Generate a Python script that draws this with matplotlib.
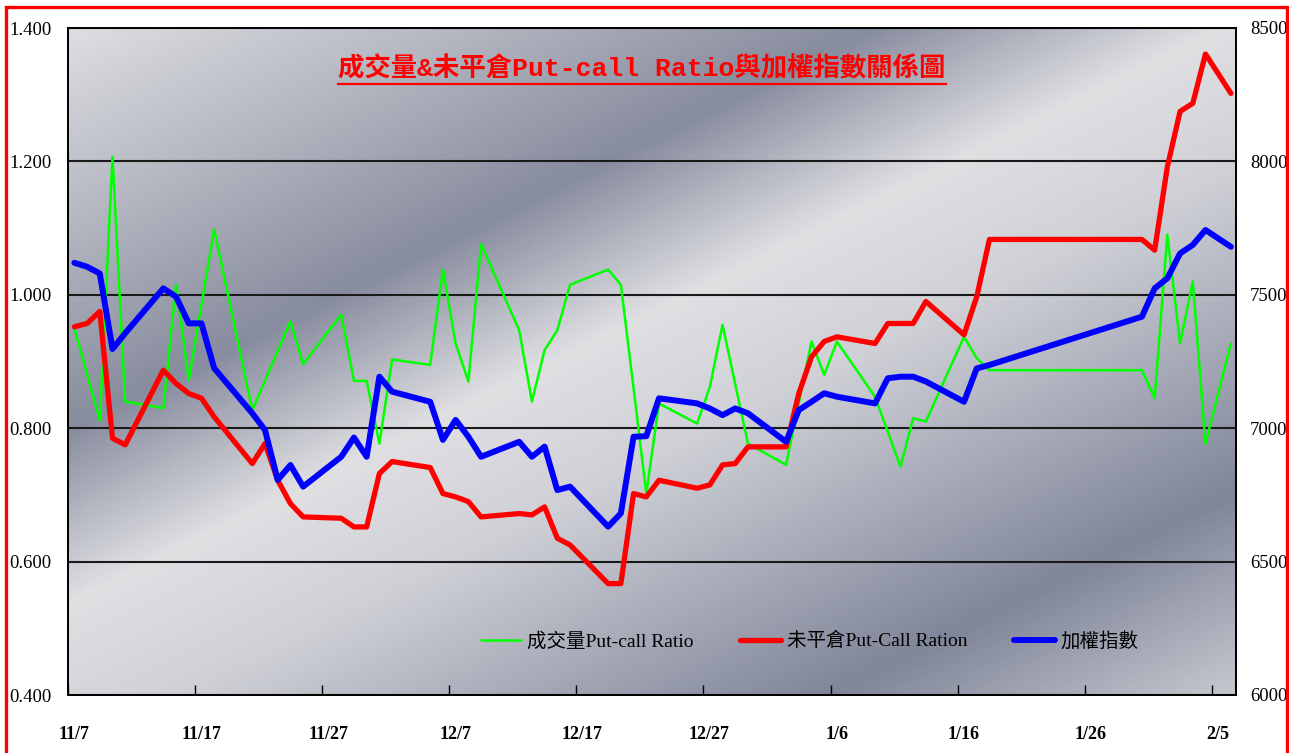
import numpy as np
import pandas as pd
import matplotlib
matplotlib.use("Agg")
import matplotlib.pyplot as plt
from matplotlib.colors import LinearSegmentedColormap
from matplotlib.patches import Rectangle
from matplotlib.lines import Line2D
from matplotlib.transforms import ScaledTranslation

# trading days 2011/11/07 - 2012/02/06
trade_days = [
    "2011-11-07", "2011-11-08", "2011-11-09", "2011-11-10", "2011-11-11",
    "2011-11-14", "2011-11-15", "2011-11-16", "2011-11-17", "2011-11-18",
    "2011-11-21", "2011-11-22", "2011-11-23", "2011-11-24", "2011-11-25",
    "2011-11-28", "2011-11-29", "2011-11-30", "2011-12-01", "2011-12-02",
    "2011-12-05", "2011-12-06", "2011-12-07", "2011-12-08", "2011-12-09",
    "2011-12-12", "2011-12-13", "2011-12-14", "2011-12-15", "2011-12-16",
    "2011-12-19", "2011-12-20", "2011-12-21", "2011-12-22", "2011-12-23",
    "2011-12-26", "2011-12-27", "2011-12-28", "2011-12-29", "2011-12-30",
    "2012-01-02", "2012-01-03", "2012-01-04", "2012-01-05", "2012-01-06",
    "2012-01-09", "2012-01-10", "2012-01-11", "2012-01-12", "2012-01-13",
    "2012-01-16", "2012-01-17", "2012-01-18", "2012-01-30", "2012-01-31",
    "2012-02-01", "2012-02-02", "2012-02-03", "2012-02-04", "2012-02-06",
]

vol_pcr = [
    0.950, 0.881, 0.812, 1.207, 0.840,
    0.830, 1.015, 0.872, 0.985, 1.098,
    0.827, 0.871, 0.916, 0.960, 0.896,
    0.970, 0.871, 0.871, 0.777, 0.903,
    0.895, 1.038, 0.927, 0.870, 1.076,
    0.947, 0.840, 0.917, 0.947, 1.015,
    1.038, 1.015, 0.860, 0.702, 0.837,
    0.807, 0.862, 0.955, 0.866, 0.777,
    0.745, 0.838, 0.930, 0.880, 0.930,
    0.847, 0.795, 0.742, 0.815, 0.810,
    0.937, 0.905, 0.887, 0.887, 0.845,
    1.090, 0.927, 1.020, 0.777, 0.927,
]

oi_pcr = [
    0.952, 0.957, 0.975, 0.785, 0.775,
    0.887, 0.867, 0.852, 0.845, 0.817,
    0.747, 0.777, 0.722, 0.687, 0.667,
    0.665, 0.652, 0.652, 0.732, 0.750,
    0.741, 0.702, 0.697, 0.690, 0.667,
    0.672, 0.670, 0.682, 0.635, 0.625,
    0.567, 0.567, 0.702, 0.697, 0.722,
    0.710, 0.715, 0.745, 0.747, 0.772,
    0.772, 0.852, 0.907, 0.930, 0.937,
    0.927, 0.957, 0.957, 0.957, 0.990,
    0.940, 0.997, 1.083, 1.083, 1.067,
    1.192, 1.275, 1.287, 1.361, 1.302,
]

taiex = [
    7620, 7605, 7580, 7297, 7356,
    7524, 7493, 7393, 7393, 7225,
    7056, 6993, 6806, 6862, 6781,
    6893, 6965, 6893, 7193, 7137,
    7099, 6956, 7031, 6968, 6893,
    6949, 6893, 6931, 6768, 6781,
    6631, 6681, 6968, 6970, 7112,
    7093, 7074, 7049, 7074, 7056,
    6949, 7068, 7099, 7131, 7118,
    7093, 7187, 7193, 7193, 7175,
    7099, 7224, 7237, 7418, 7524,
    7562, 7655, 7687, 7743, 7680,
]

tick_dates = ["2011-11-07", "2011-11-17", "2011-11-27", "2011-12-07", "2011-12-17",
              "2011-12-27", "2012-01-06", "2012-01-16", "2012-01-26", "2012-02-05"]
tick_labels = ["11/7", "11/17", "11/27", "12/7", "12/17", "12/27", "1/6", "1/16", "1/26", "2/5"]

start = pd.Timestamp("2011-11-07")
# excel date axis: every day is one slot, the point sits in the middle of it
x = np.array([(d - start).days for d in pd.to_datetime(trade_days)]) + 0.5
xt = [(d - start).days for d in pd.to_datetime(tick_dates)]

W, H = 1289, 753
fig = plt.figure(figsize=(W / 100, H / 100), dpi=100)
fig.patch.set_facecolor("white")
L, R, T, B = 68, 1236, 28, 695
ax = fig.add_axes([L / W, 1 - B / H, (R - L) / W, (B - T) / H])

# silver diagonal gradient behind the plot
nx, ny = 400, 240
gx, gy = np.meshgrid(np.linspace(0, 1, nx), np.linspace(0, 1, ny))
t = (gx * (R - L) + 2 * gy * (B - T)) / ((R - L) + 2 * (B - T))
cmap = LinearSegmentedColormap.from_list("silver", [
    (0.00, "#dddee2"), (0.15, "#b6b9c2"), (0.32, "#878c9e"),
    (0.46, "#e0e0e3"), (0.58, "#cfd0d6"), (0.84, "#80869a"), (1.00, "#c5c7ce")])
ax.imshow(cmap(t), extent=[0, 1, 0, 1], transform=ax.transAxes,
          aspect="auto", origin="upper", interpolation="bilinear", zorder=0)

lstyle = dict(solid_joinstyle="round", solid_capstyle="round")
l1, = ax.plot(x, vol_pcr, color="#00ff00", lw=1.8, zorder=3,
              label="成交量Put-call Ratio", **lstyle)
l2, = ax.plot(x, oi_pcr, color="#ff0000", lw=3.8, zorder=4,
              label="未平倉Put-Call Ration", **lstyle)
ax.set_xlim(0, 91.9)
ax.set_ylim(0.4, 1.4)
ax.set_yticks(np.arange(0.4, 1.41, 0.2))
ax.set_yticklabels(["%.3f" % v for v in np.arange(0.4, 1.41, 0.2)])
ax.yaxis.grid(True, color="#1a1a1a", lw=1.5, zorder=1)
ax.set_axisbelow(False)
ax.set_xticks(xt)
ax.set_xticklabels(tick_labels)
ax.tick_params(axis="x", direction="in", length=7, width=1, pad=22)
ax.tick_params(axis="y", length=0, pad=12)
shift = ScaledTranslation(6 / 100, 0, fig.dpi_scale_trans)
for lab in ax.get_xticklabels():
    lab.set_fontfamily("Liberation Serif")
    lab.set_fontweight("bold")
    lab.set_fontsize(13)
    lab.set_transform(lab.get_transform() + shift)
for lab in ax.get_yticklabels():
    lab.set_fontfamily("Liberation Serif")
    lab.set_fontsize(13.5)

ax2 = ax.twinx()
l3, = ax2.plot(x, taiex, color="#0000ff", lw=4.3, label="加權指數", **lstyle)
ax2.set_ylim(6000, 8500)
ax2.set_yticks(range(6000, 8501, 500))
ax2.tick_params(axis="y", length=0, pad=10)
for lab in ax2.get_yticklabels():
    lab.set_fontfamily("Liberation Serif")
    lab.set_fontsize(13.5)
for a in (ax, ax2):
    for s in a.spines.values():
        s.set_color("black")
        s.set_linewidth(1.3)

leg = ax2.legend(handles=[l1, l2, l3], loc="center", bbox_to_anchor=(0.635, 0.081),
                 ncol=3, frameon=False, handlelength=2.1, columnspacing=2.4,
                 handletextpad=0.3,
                 prop={"family": ["Liberation Serif", "Noto Sans CJK TC"], "size": 14})

title = fig.text(642 / W, 1 - 69 / H, "成交量&未平倉Put-call Ratio與加權指數關係圖",
                 ha="center", va="center", color="red", fontsize=19, fontweight="bold",
                 family=["Liberation Mono", "Noto Sans CJK TC"])

# underline the title
fig.canvas.draw()
bb = title.get_window_extent(fig.canvas.get_renderer())
uy = (bb.y0 - 2) / H
fig.add_artist(Line2D([bb.x0 / W, bb.x1 / W], [uy, uy], color="red", lw=1.6))

# red frame round the whole picture
fig.add_artist(Rectangle((5.5 / W, -0.05), (1286.5 - 5.5) / W, 1.05 - 7.5 / H,
                         transform=fig.transFigure, fill=False, edgecolor="red", lw=2.4))

fig.savefig("out.png", dpi=100)
